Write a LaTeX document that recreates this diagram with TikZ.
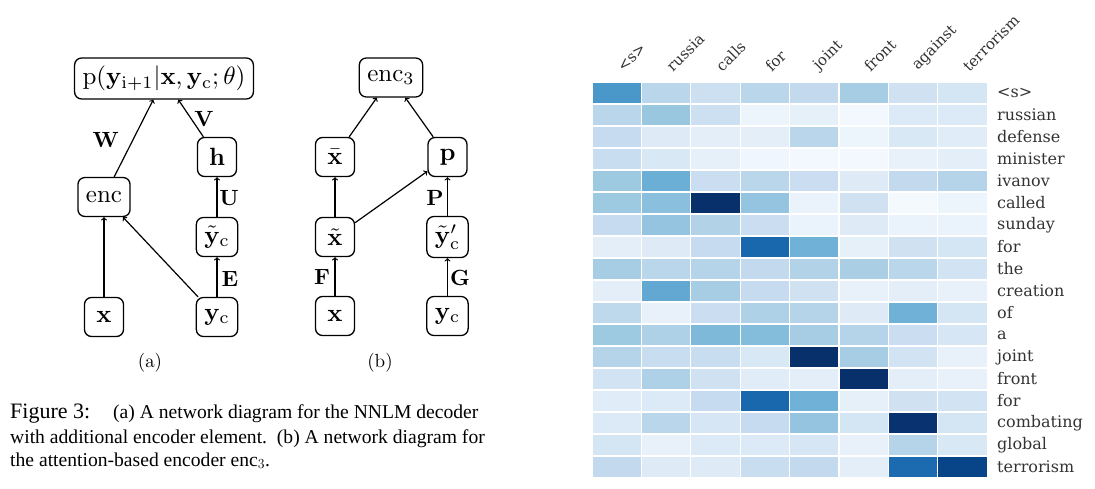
\RequirePackage{fix-cm}
\documentclass[tikz,border=0pt]{standalone}
\usepackage{amsmath}
\usepackage{graphicx}
\usepackage[no-math]{fontspec}
\newfontfamily\hmfont{DejaVu Serif}
\newfontfamily\capfont{Liberation Serif}
\newcommand{\netmath}[2][2.5]{\scalebox{#1}{$#2$}}
\definecolor{bl0}{RGB}{247,251,255}
\definecolor{bl1}{RGB}{222,235,247}
\definecolor{bl2}{RGB}{198,219,239}
\definecolor{bl3}{RGB}{158,202,225}
\definecolor{bl4}{RGB}{107,174,214}
\definecolor{bl5}{RGB}{66,146,198}
\definecolor{bl6}{RGB}{33,113,181}
\definecolor{bl7}{RGB}{8,81,156}
\definecolor{bl8}{RGB}{8,48,107}
\begin{document}
\begin{tikzpicture}[x=1pt, y=-1pt,
  netbox/.style={draw, line width=1.3pt, rounded corners=7pt, inner sep=8pt, minimum width=39pt, minimum height=39pt},
  wlabel/.style={inner sep=0pt},
  sublabel/.style={inner sep=0pt},
  netarrow/.style={->, line width=1.2pt},
  captext/.style={anchor=base west, inner sep=0pt, font=\capfont\fontsize{19.6}{22}\selectfont},
  rowword/.style={anchor=west, inner sep=0pt, font=\hmfont\fontsize{16}{18}\selectfont, text=black!80},
  colword/.style={anchor=south west, inner sep=0pt, rotate=45, font=\hmfont\fontsize{15}{18}\selectfont, text=black!80}]
  \useasboundingbox (0,0) rectangle (1095,489);

  % (a) decoder with encoder element
  \node [netbox] (pa) at (164,78.5) {\netmath{\mathrm{p}(\mathbf{y}_{\mathrm{i+1}}|\mathbf{x},\mathbf{y}_{\mathrm{c}};\theta)}};
  \node [netbox] (enca) at (104,197) {\netmath{\mathrm{enc}}};
  \node [netbox] (ha) at (217,157) {\netmath{\mathbf{h}}};
  \node [netbox] (yta) at (217,237) {\netmath{\tilde{\mathbf{y}}_{\mathrm{c}}}};
  \node [netbox] (xa) at (104,317) {\netmath{\mathbf{x}}};
  \node [netbox] (yca) at (217,317) {\netmath{\mathbf{y}_{\mathrm{c}}}};
  \draw [netarrow] (xa) -- (enca);
  \draw [netarrow] (yca) -- (enca);
  \draw [netarrow] (enca) -- (pa);
  \draw [netarrow] (ha) -- (pa);
  \draw [netarrow] (yta) -- (ha);
  \draw [netarrow] (yca) -- (yta);
  \node [wlabel] (lW) at (106,140) {\netmath[2.2]{\mathbf{W}}};
  \node [wlabel] (lV) at (204,119) {\netmath[2.2]{\mathbf{V}}};
  \node [wlabel] (lU) at (229,198) {\netmath[2.2]{\mathbf{U}}};
  \node [wlabel] (lE) at (230,279) {\netmath[2.2]{\mathbf{E}}};
  \node [sublabel] (suba) at (150,363) {\netmath[1.9]{(\mathrm{a})}};

  % (b) attention-based encoder
  \begin{scope}[xshift=335pt]
    \node [netbox] (encb) at (56,77.5) {\netmath{\mathrm{enc}_3}};
    \node [netbox] (xbar) at (0,157) {\netmath{\bar{\mathbf{x}}}};
    \node [netbox] (pb) at (112.5,157) {\netmath{\mathbf{p}}};
    \node [netbox] (xtil) at (0,237) {\netmath{\tilde{\mathbf{x}}}};
    \node [netbox] (ytb) at (112.5,237) {\netmath{\tilde{\mathbf{y}}'_{\mathrm{c}}}};
    \node [netbox] (xb) at (0,316) {\netmath{\mathbf{x}}};
    \node [netbox] (ycb) at (112.5,316) {\netmath{\mathbf{y}_{\mathrm{c}}}};
    \draw [netarrow] (xbar) -- (encb);
    \draw [netarrow] (pb) -- (encb);
    \draw [netarrow] (xtil) -- (xbar);
    \draw [netarrow] (xtil) -- (pb);
    \draw [netarrow] (ytb) -- (pb);
    \draw [netarrow] (xb) -- (xtil);
    \draw [netarrow] (ycb) -- (ytb);
    \node [wlabel] (lF) at (-13,277) {\netmath[2.2]{\mathbf{F}}};
    \node [wlabel] (lG) at (125,278) {\netmath[2.2]{\mathbf{G}}};
    \node [wlabel] (lP) at (100,198) {\netmath[2.2]{\mathbf{P}}};
    \node [sublabel] (subb) at (45,363) {\netmath[1.9]{(\mathrm{b})}};
  \end{scope}

  % caption
  \node [captext, font=\capfont\fontsize{22}{24}\selectfont] (figno) at (10,418.5) {Figure 3:};
  \node [captext] (cap1) at (113,418.5) {(a) A network diagram for the NNLM decoder};
  \node [captext] (cap2) at (10,443.5) {with additional encoder element.\ \ (b) A network diagram for};
  \node [captext] (cap3) at (10,466) {the attention-based encoder enc$_3$.};

  % attention heatmap
  \foreach \vals [count=\r] in {
    {4.8,2.3,1.7,2.3,2.1,2.8,1.6,1.4},
    {2.3,3.1,1.7,0.4,0.7,0.2,1.1,1.1},
    {2.0,1.0,0.8,0.8,2.3,0.4,1.2,0.9},
    {1.9,1.2,0.7,0.3,0.2,0.2,0.6,0.8},
    {3.0,4.0,1.8,2.3,1.8,1.0,2.1,2.4},
    {3.0,3.4,8.0,3.2,0.5,1.6,0.1,0.4},
    {2.0,3.2,2.5,1.8,0.5,1.0,0.5,0.5},
    {0.8,1.0,2.0,6.3,3.9,0.7,1.6,1.4},
    {2.8,2.3,2.4,2.1,2.5,2.7,2.3,1.5},
    {0.8,4.2,2.8,2.0,1.6,0.6,0.8,0.6},
    {2.2,0.6,1.8,2.6,2.4,1.0,3.9,1.4},
    {3.0,2.6,3.6,3.5,2.8,2.4,1.8,1.3},
    {2.4,1.9,1.9,1.2,8.0,2.8,1.5,0.6},
    {1.5,2.6,1.6,0.9,0.8,8.0,0.8,0.6},
    {0.9,1.1,2.0,6.3,3.9,0.7,1.6,1.5},
    {1.1,2.3,1.3,2.0,3.2,1.4,7.9,1.4},
    {1.4,0.6,1.1,1.1,1.3,0.6,2.4,1.2},
    {2.1,1.0,1.0,1.9,2.1,0.8,6.2,7.4}} {
    \foreach \v [count=\c] in \vals {
      \pgfmathtruncatemacro\lo{min(floor(\v),7)}
      \pgfmathtruncatemacro\hi{\lo+1}
      \pgfmathtruncatemacro\pc{round(100*(\lo+1-\v))}
      \filldraw [fill=bl\lo!\pc!bl\hi, draw=white, line width=1.2pt]
        ({592+(\c-1)*49.4},{82+(\r-1)*22}) rectangle ++(49.4,22);
    }
  }
  \foreach \w [count=\r] in {<s>,russian,defense,minister,ivanov,called,sunday,for,the,creation,of,a,joint,front,for,combating,global,terrorism}
    \node [rowword] (row\r) at (997,{82+(\r-0.5)*22}) {\w};
  \foreach \w [count=\c] in {<s>,russia,calls,for,joint,front,against,terrorism}
    \node [colword] (col\c) at ({592+(\c-0.5)*49.4+7},73) {\w};
\end{tikzpicture}
\end{document}
